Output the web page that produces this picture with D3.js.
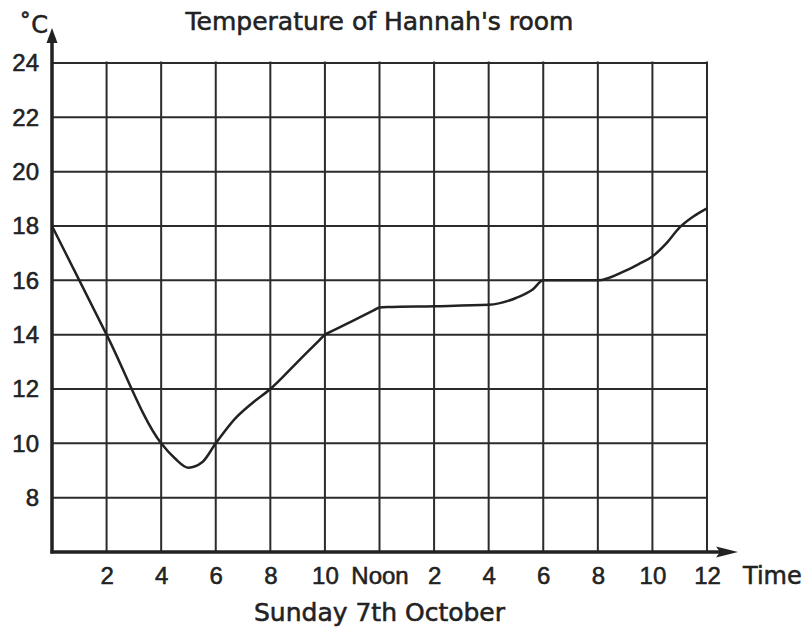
<!DOCTYPE html>
<html lang="en">
<meta charset="utf-8">
<title>Temperature of Hannah's room</title>
<style>
  body { margin: 0; background: #fff; }
  svg { display: block; font-family: "DejaVu Sans", sans-serif; }
  text { fill: #222; stroke: #222; stroke-width: 0.55px; }
</style>
<body>
<script src="https://d3js.org/d3.v7.min.js"></script>
<script>
  // data
  var hours = [0, 2, 4, 4.5, 5, 5.5, 6, 6.7, 7.3, 8, 9, 9.8, 10, 10.2, 11.8, 12, 12.3, 14, 16, 17, 17.6, 18, 20, 21, 21.5, 22, 22.5, 23, 23.5, 24];
  var temps = [18, 14, 10, 9.45, 9.1, 9.3, 10, 10.9, 11.45, 12, 13, 13.8, 14, 14.1, 14.9, 15, 15.02, 15.05, 15.1, 15.35, 15.65, 16, 16, 16.35, 16.6, 16.88, 17.35, 17.95, 18.35, 18.65];

  var hourTicks = [2, 4, 6, 8, 10, 12, 14, 16, 18, 20, 22, 24];
  var hourLabels = ["2", "4", "6", "8", "10", "Noon", "2", "4", "6", "8", "10", "12"];
  var tempTicks = [8, 10, 12, 14, 16, 18, 20, 22, 24];

  var margin = {top: 63, right: 101, bottom: 78, left: 52},
    width = 808 - margin.left - margin.right,
    height = 630 - margin.top - margin.bottom;

  var x = d3.scaleLinear().domain([0, 24]).range([0, width]);
  var y = d3.scaleLinear().domain([6, 24]).range([height, 0]);

  var svg = d3.select("body").append("svg")
    .attr("width", 808)
    .attr("height", 630)
    .append("g")
    .attr("transform", "translate(" + margin.left + "," + margin.top + ")");

  // grid
  svg.append("g")
    .selectAll("line")
    .data(hourTicks)
    .join("line")
    .attr("x1", function(d) { return x(d); })
    .attr("x2", function(d) { return x(d); })
    .attr("y1", y(24) - 1.5)
    .attr("y2", y(6))
    .attr("stroke", "#2b2b2b")
    .attr("stroke-width", 2);

  svg.append("g")
    .selectAll("line")
    .data(tempTicks)
    .join("line")
    .attr("x1", x(0))
    .attr("x2", x(24))
    .attr("y1", function(d) { return y(d); })
    .attr("y2", function(d) { return y(d); })
    .attr("stroke", "#2b2b2b")
    .attr("stroke-width", 2);

  // tick labels
  var xAxis = svg.append("g")
    .attr("transform", "translate(0," + height + ")")
    .call(d3.axisBottom(x)
      .tickValues(hourTicks)
      .tickSize(0)
      .tickPadding(15)
      .tickFormat(function(d, i) { return hourLabels[i]; }));
  xAxis.select(".domain").remove();
  xAxis.selectAll("text").attr("font-size", 24).attr("fill", "#222");

  var yAxis = svg.append("g")
    .call(d3.axisLeft(y)
      .tickValues(tempTicks)
      .tickSize(0)
      .tickPadding(13));
  yAxis.select(".domain").remove();
  yAxis.selectAll("text").attr("font-size", 24).attr("fill", "#222");

  // axes with arrows
  svg.append("line")
    .attr("x1", x(0)).attr("x2", x(0))
    .attr("y1", y(6) + 1.5).attr("y2", y(24) - 26)
    .attr("stroke", "#222").attr("stroke-width", 3.5);
  svg.append("path")
    .attr("d", "M" + x(0) + "," + (y(24) - 35) + "l-5.5,15l11,0z")
    .attr("fill", "#222");

  svg.append("line")
    .attr("x1", x(0) - 1.5).attr("x2", width + 18)
    .attr("y1", y(6)).attr("y2", y(6))
    .attr("stroke", "#222").attr("stroke-width", 3.5);
  svg.append("path")
    .attr("d", "M" + (width + 31) + "," + y(6) + "l-22,-5.5l4,5.5l-4,5.5z")
    .attr("fill", "#222");

  // temperature line
  var valueline = d3.line()
    .x(function(d, i) { return x(hours[i]); })
    .y(function(d) { return y(d); })
    .curve(d3.curveMonotoneX);

  svg.append("path")
    .datum(temps)
    .attr("d", valueline)
    .attr("fill", "none")
    .attr("stroke", "#222")
    .attr("stroke-width", 2.5);

  // titles
  svg.append("text")
    .attr("x", x(12))
    .attr("y", -33)
    .attr("text-anchor", "middle")
    .attr("font-size", 25)
    .text("Temperature of Hannah's room");

  svg.append("text")
    .attr("x", x(12))
    .attr("y", height + 69)
    .attr("text-anchor", "middle")
    .attr("font-size", 25)
    .text("Sunday 7th October");

  svg.append("text")
    .attr("x", width + 36)
    .attr("y", height + 32)
    .attr("font-size", 24)
    .text("Time");

  svg.append("text")
    .attr("x", -4)
    .attr("y", -30)
    .attr("text-anchor", "end")
    .attr("font-size", 24)
    .text("˚C");
</script>
</body>
</html>
